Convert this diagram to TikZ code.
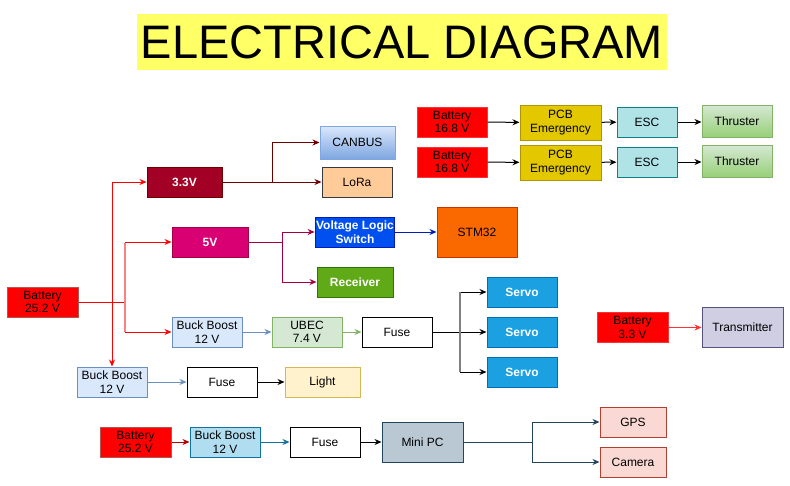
\documentclass[tikz,border=0pt]{standalone}
\usepackage{fontspec}
\setmainfont{Liberation Sans}
\usepackage{tikz}
\usetikzlibrary{arrows.meta}
\tikzset{>={Stealth[length=7pt,width=6pt]}}
\definecolor{titleyellow}{HTML}{FFFF66}
\definecolor{batred}{HTML}{FF0000}
\definecolor{batline}{HTML}{B85450}
\definecolor{batlight}{HTML}{FF3333}
\definecolor{pcbfill}{HTML}{E3C800}
\definecolor{pcbline}{HTML}{B09500}
\definecolor{escfill}{HTML}{B0E3E6}
\definecolor{escline}{HTML}{0E8088}
\definecolor{greenfill}{HTML}{D5E8D4}
\definecolor{greendark}{HTML}{97D077}
\definecolor{greenline}{HTML}{82B366}
\definecolor{canfill}{HTML}{DAE8FC}
\definecolor{canbot}{HTML}{7EA6E0}
\definecolor{lorafill}{HTML}{FFCC99}
\definecolor{loraline}{HTML}{36393D}
\definecolor{wine}{HTML}{A20025}
\definecolor{wineline}{HTML}{6F0000}
\definecolor{magenta5}{HTML}{D80073}
\definecolor{magentaline}{HTML}{A50040}
\definecolor{cobalt}{HTML}{0050EF}
\definecolor{cobaltline}{HTML}{001DBC}
\definecolor{recvfill}{HTML}{60A917}
\definecolor{recvline}{HTML}{2D7600}
\definecolor{stmfill}{HTML}{FA6800}
\definecolor{stmline}{HTML}{C73500}
\definecolor{bbfill}{HTML}{DAE8FC}
\definecolor{bbline}{HTML}{6C8EBF}
\definecolor{servofill}{HTML}{1BA1E2}
\definecolor{servoline}{HTML}{006EAF}
\definecolor{transfill}{HTML}{D0CEE2}
\definecolor{transline}{HTML}{56517E}
\definecolor{lightfill}{HTML}{FFF2CC}
\definecolor{lightline}{HTML}{D6B656}
\definecolor{bbbfill}{HTML}{B1DDF0}
\definecolor{bbbline}{HTML}{10739E}
\definecolor{pcfill}{HTML}{BAC8D3}
\definecolor{pcline}{HTML}{23445D}
\definecolor{gpsfill}{HTML}{FAD9D5}
\definecolor{gpsline}{HTML}{AE4132}
\definecolor{darkred}{HTML}{B20000}
\tikzset{
    blk/.style={draw, rectangle, line width=1pt, minimum width=70pt, minimum height=30pt,
        inner sep=1pt, align=center, font=\fontsize{12}{13.5}\selectfont},
    boldblk/.style={blk, text=white, font=\fontsize{12}{13.5}\selectfont\bfseries},
    wire/.style={->, line width=1pt}
}

\begin{document}
\begin{tikzpicture}[x=1pt, y=-1pt]
    \useasboundingbox (0,0) rectangle (790,485);
    \node[fill=titleyellow, minimum width=530pt, minimum height=56pt, inner sep=0pt,
        font=\fontsize{47}{50}\selectfont] at (402,42) (title) {ELECTRICAL DIAGRAM};

    % thruster lines
    \node[blk, fill=batred, draw=batlight] at (452,122) (bat16a) {Battery\\16.8 V};
    \node[blk, fill=pcbfill, draw=pcbline, minimum width=81pt, minimum height=35pt] at (560.5,122.5) (pcba) {PCB\\Emergency};
    \node[blk, fill=escfill, draw=escline, minimum width=60pt] at (647,122) (esca) {ESC};
    \node[blk, top color=greenfill, bottom color=greendark, draw=greenline, minimum height=32pt] at (737,121) (thra) {Thruster};
    \node[blk, fill=batred, draw=batlight] at (452,162) (bat16b) {Battery\\16.8 V};
    \node[blk, fill=pcbfill, draw=pcbline, minimum width=81pt, minimum height=35pt] at (560.5,162.5) (pcbb) {PCB\\Emergency};
    \node[blk, fill=escfill, draw=escline, minimum width=60pt] at (647,162) (escb) {ESC};
    \node[blk, top color=greenfill, bottom color=greendark, draw=greenline, minimum height=32pt] at (737,161) (thrb) {Thruster};

    % main battery tree
    \node[blk, fill=batred, draw=batline, minimum width=71pt] at (42.5,302) (bat25) {Battery\\25.2 V};
    \node[boldblk, fill=wine, draw=wineline, minimum width=75pt] at (184.5,182) (v33) {3.3V};
    \node[blk, top color=canfill, bottom color=canbot, draw=canbot, minimum width=75pt, minimum height=33pt] at (357.5,142.5) (canbus) {CANBUS};
    \node[blk, fill=lorafill, draw=loraline] at (357,182) (lora) {LoRa};
    \node[boldblk, fill=magenta5, draw=magentaline, minimum width=76pt] at (210,242) (v5) {5V};
    \node[boldblk, fill=cobalt, draw=cobaltline, minimum width=76pt] at (355,232) (vls) {Voltage Logic\\Switch};
    \node[boldblk, fill=recvfill, draw=recvline, minimum width=76pt] at (355,282) (recv) {Receiver};
    \node[blk, fill=stmfill, draw=stmline, minimum width=80pt, minimum height=50pt] at (477,232) (stm) {STM32};
    \node[blk, fill=bbfill, draw=bbline] at (207,332) (bbup) {Buck Boost\\12 V};
    \node[blk, fill=greenfill, draw=greenline] at (307,332) (ubec) {UBEC\\7.4 V};
    \node[blk, fill=white, draw=black] at (397,332) (fuseup) {Fuse};
    \node[boldblk, fill=servofill, draw=servoline] at (522,292) (servoa) {Servo};
    \node[boldblk, fill=servofill, draw=servoline] at (522,332) (servob) {Servo};
    \node[boldblk, fill=servofill, draw=servoline] at (522,372) (servoc) {Servo};
    \node[blk, fill=bbfill, draw=bbline] at (112,382) (bblow) {Buck Boost\\12 V};
    \node[blk, fill=white, draw=black] at (222,382) (fuselow) {Fuse};
    \node[blk, fill=lightfill, draw=lightline, minimum width=75pt] at (322.5,382) (light) {Light};

    % transmitter
    \node[blk, fill=batred, draw=batlight, minimum width=71pt] at (632.5,327.5) (bat33) {Battery\\3.3 V};
    \node[blk, fill=transfill, draw=transline, minimum width=81pt, minimum height=40pt] at (742.5,327) (trans) {Transmitter};

    % computer line
    \node[blk, fill=batred, draw=batline, minimum width=71pt] at (135.5,442) (batpc) {Battery\\25.2 V};
    \node[blk, fill=bbbfill, draw=bbbline] at (225,442) (bbpc) {Buck Boost\\12 V};
    \node[blk, fill=white, draw=black] at (325,442) (fusepc) {Fuse};
    \node[blk, fill=pcfill, draw=pcline, minimum width=81pt, minimum height=40pt] at (422.5,442) (minipc) {Mini PC};
    \node[blk, fill=gpsfill, draw=gpsline, minimum width=66pt] at (633,422) (gps) {GPS};
    \node[blk, fill=gpsfill, draw=gpsline, minimum width=66pt] at (633,462) (camera) {Camera};

    \coordinate (split5) at (125,302);
    \coordinate (splitservo) at (460,332);

    \draw[wire] (bat16a) -- (pcba);
    \draw[wire] (pcba) -- (esca);
    \draw[wire] (esca) -- (thra.west |- esca);
    \draw[wire] (bat16b) -- (pcbb);
    \draw[wire] (pcbb) -- (escb);
    \draw[wire] (escb) -- (thrb.west |- escb);

    \draw[wire, red] (bat25.east) -| (bblow);
    \draw[wire, red] (bat25.east -| bblow) |- (v33);
    \draw[wire, red] (bat25.east) -- (split5) |- (v5);
    \draw[wire, red] (split5) |- (bbup);
    \draw[line width=1.2pt, red!50] (split5 |- v5) ++(0,1) -- (split5 |- bbup);
    \draw[wire, wineline] (v33.east) -- ++(50,0) |- (canbus);
    \draw[wire, wineline] (v33) -- (lora);
    \draw[wire, magentaline] (v5.east) -- ++(34,0) |- (vls);
    \draw[wire, magentaline] (v5.east) -- ++(34,0) |- (recv);
    \draw[wire, cobaltline] (vls) -- (stm);
    \draw[wire, bbline] (bbup) -- (ubec);
    \draw[wire, greenline] (ubec) -- (fuseup);
    \draw[wire] (fuseup) -- (splitservo) |- (servoa);
    \draw[wire] (fuseup) -- (servob);
    \draw[wire] (splitservo) |- (servoc);
    \draw[line width=1.5pt, gray] (splitservo |- servoa) -- (splitservo |- servoc);
    \draw[wire, bbline] (bblow) -- (fuselow);
    \draw[wire] (fuselow) -- (light);

    \draw[wire, batlight] (bat33) -- (trans.west |- bat33);

    \draw[wire, darkred] (batpc) -- (bbpc);
    \draw[wire, bbbline] (bbpc) -- (fusepc);
    \draw[wire] (fusepc) -- (minipc);
    \draw[wire, pcline] (minipc.east) -- ++(69,0) |- (gps);
    \draw[wire, pcline] (minipc.east) -- ++(69,0) |- (camera);
\end{tikzpicture}
\end{document}
